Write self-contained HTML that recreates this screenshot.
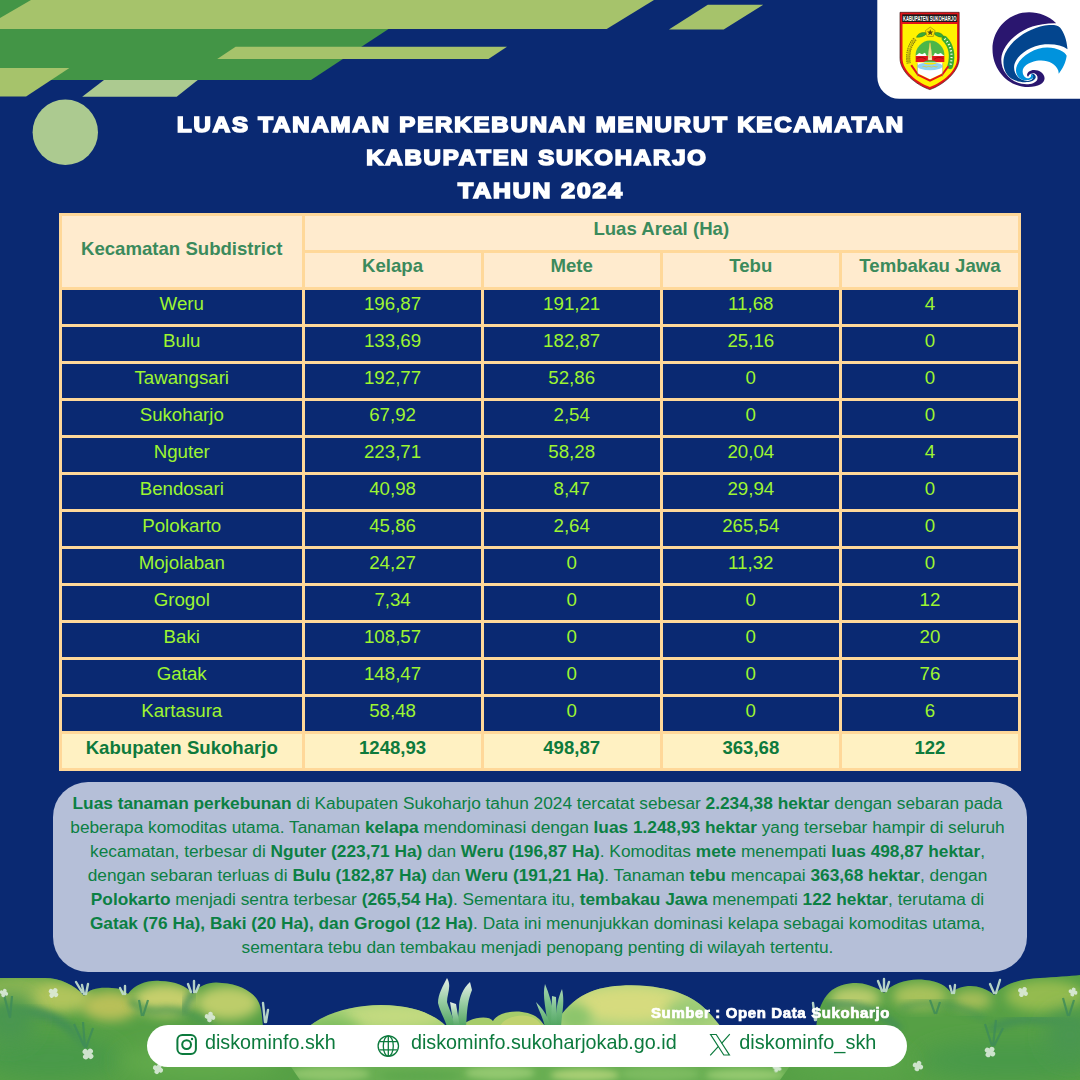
<!DOCTYPE html>
<html lang="id">
<head>
<meta charset="utf-8">
<title>Luas Tanaman Perkebunan Menurut Kecamatan Kabupaten Sukoharjo Tahun 2024</title>
<style>
*{box-sizing:border-box;margin:0;padding:0}
html,body{width:1080px;height:1080px;overflow:hidden}
body{background:#0A2972;font-family:"Liberation Sans",Arial,sans-serif;position:relative}
#stage{position:absolute;left:0;top:0;width:1080px;height:1080px;overflow:hidden;background:#0A2972}
svg{position:absolute;left:0;top:0}
.title{position:absolute;left:0;width:1080px;text-align:center;color:#fff;font-weight:700;font-size:21.6px;line-height:33px;white-space:nowrap;-webkit-text-stroke:1.7px #fff;letter-spacing:1.7px;transform:scaleX(1.1);transform-origin:540px 0}
#tbl{position:absolute;left:59px;top:213px;width:962px;height:558px;background:#FFD899}
.c{position:absolute;display:flex;align-items:center;justify-content:center;white-space:nowrap}
.c.h{background:#FFEBCE;color:#3B8A5C;font-weight:700;font-size:18.6px}
.c.d{background:#0A2972;color:#9DF530;font-size:18.7px}
.c.t{background:#FFF1C2;color:#0E7A3C;font-weight:700;font-size:18.6px}
.c span{display:block;position:relative;top:-3.2px}
.c.h span{top:-3.7px}
.c.h0 span{top:-2.5px}
.c.t span{top:-2.8px}
#desc{position:absolute;left:52.8px;top:781.7px;width:974.6px;height:190px;border-radius:35px;background:#B5BFD8;color:#0B8043;font-size:17.29px;line-height:23.9px;text-align:center;padding-top:10.4px}
#desc p{white-space:nowrap;position:relative;left:-2.6px}
#desc b{font-weight:700}
#pill{position:absolute;left:147px;top:1025px;width:759.5px;height:41.7px;border-radius:21px;background:#fff}
.ft{position:absolute;color:#0C7A3D;font-size:19.75px;line-height:22px;white-space:nowrap;top:1031px}
#src{position:absolute;left:650.8px;top:1004.8px;color:#fff;font-weight:700;font-size:13.8px;line-height:18px;white-space:nowrap;-webkit-text-stroke:0.7px #fff;letter-spacing:0.6px;transform:scaleX(1.083);transform-origin:0 0}
</style>
</head>
<body>
<div id="stage">
<!-- top decoration -->
<svg width="1080" height="200" viewBox="0 0 1080 200">
  <polygon points="0,0 432.6,0 311,80 0,80" fill="#439546"/>
  <polygon points="31,0 654,0 606.7,29 0,29 0,18" fill="#A6C36B"/>
  <polygon points="235.6,46.7 507,46.7 488.5,58.9 217.2,58.9" fill="#A6C36B"/>
  <polygon points="0,68 69.4,68 26.1,96.4 0,96.4" fill="#A6C36B"/>
  <polygon points="104,80 197.8,80 176.7,96.7 82.2,96.7" fill="#ACCA90"/>
  <polygon points="707.8,4.8 763.3,4.8 723.7,29.6 668.9,29.6" fill="#A6C36B"/>
  <circle cx="65.3" cy="132.3" r="32.7" fill="#ACCA90"/>
</svg>
<svg id="logos" width="210" height="105" viewBox="870 0 210 105" style="left:870px;top:0">
<path d="M877.3,0 H1080 V98.8 H899.3 A22,22 0 0 1 877.3,76.8 Z" fill="#fff"/>
<!-- Sukoharjo shield: zoomed coords (x-890)*12,(y-5)*12 -->
<g transform="translate(890,5) scale(0.083333)">
  <path d="M120,88 H830 V640 C830,800 640,960 478,1015 C310,960 120,800 120,640 Z" fill="#E2141A" stroke="#3A1212" stroke-width="8"/>
  <rect x="147" y="112" width="660" height="92" fill="#1A1A1A"/>
  <path d="M150,228 H805 V640 C805,790 630,930 478,985 C320,930 150,790 150,640 Z" fill="#FFF200"/>
  <!-- wreaths -->
  <path d="M300,410 C235,480 205,580 225,700" fill="none" stroke="#6E6A14" stroke-width="50" stroke-dasharray="16 9"/>
  <path d="M300,410 C235,480 205,580 225,700" fill="none" stroke="#F4E300" stroke-width="30" stroke-dasharray="9 16" stroke-dashoffset="-4"/>
  <path d="M655,405 C730,480 760,600 722,735" fill="none" stroke="#3AAA35" stroke-width="68" stroke-linecap="round"/>
  <path d="M655,405 C730,480 760,600 722,735" fill="none" stroke="#F2FBEF" stroke-width="26" stroke-dasharray="14 26"/>
  <!-- top leaves -->
  <path d="M318,388 C330,340 390,320 440,335 C430,365 380,390 318,388 Z" fill="#3AAA35" stroke="#1E6B22" stroke-width="5"/>
  <path d="M648,388 C636,340 576,320 526,335 C536,365 586,390 648,388 Z" fill="#3AAA35" stroke="#1E6B22" stroke-width="5"/>
  <polygon points="483,265 542,308 520,378 446,378 424,308" fill="#FFE600" stroke="#8E7A10" stroke-width="7"/>
  <polygon points="483,290 493,318 522,318 499,336 508,364 483,347 458,364 467,336 444,318 473,318" fill="#5A4A10"/>
  <!-- dome -->
  <path d="M308,610 C300,520 380,425 480,425 C585,425 660,520 652,610 Z" fill="#4CB648"/>
  <path d="M308,612 L350,575 L385,590 L420,572 L440,612 Z M652,612 L610,575 L575,590 L540,572 L520,612 Z" fill="#fff"/>
  <rect x="308" y="612" width="344" height="72" fill="#E2141A"/>
  <path d="M320,640 C360,625 400,625 430,650 M640,640 C600,625 560,625 530,650" stroke="#7A1010" stroke-width="8" fill="none"/>
  <!-- monument -->
  <polygon points="480,448 498,560 505,660 455,660 462,560" fill="#F5F1D0" stroke="#B9A63A" stroke-width="4"/>
  <rect x="474" y="460" width="12" height="180" fill="#E9D23A"/>
  <path d="M400,690 C430,655 530,655 560,690 Z" fill="#4CB648"/>
  <!-- white base + water -->
  <polygon points="330,690 630,690 630,820 480,890 330,820" fill="#fff"/>
  <ellipse cx="480" cy="735" rx="150" ry="48" fill="#8FD3F4"/>
  <path d="M400,700 C440,720 520,720 560,700 C540,690 420,690 400,700 Z" fill="#FFE600"/>
  <path d="M390,740 C410,728 430,752 450,740 C470,728 490,752 510,740 C530,728 550,752 570,740" fill="none" stroke="#E8C81E" stroke-width="9"/>
  <path d="M255,722 L335,838 L480,908 L625,838 L700,735" fill="none" stroke="#E2141A" stroke-width="24" stroke-linejoin="miter"/>
  <path d="M330,700 V860 M630,700 V860" stroke="#8C8C8C" stroke-width="5"/>
  <text x="477" y="187" font-family="'Liberation Sans',Arial,sans-serif" font-weight="700" font-size="82" fill="#fff" text-anchor="middle" textLength="640" lengthAdjust="spacingAndGlyphs">KABUPATEN SUKOHARJO</text>
</g>
<!-- Kominfo: zoomed coords (x-985)*12,(y-5)*12 -->
<g transform="translate(985,5) scale(0.083333)">
  <path d="M855,220 C760,130 650,88 530,88 C280,88 90,290 90,530 C90,790 290,985 520,985 C640,985 715,940 715,880 C715,820 650,780 590,780 C540,780 505,810 505,840 C505,855 515,860 520,858 C525,830 560,815 590,820 C625,830 640,870 625,900 C600,945 520,960 440,945 C300,915 195,800 195,650 C205,470 430,212 855,220 Z" fill="#2A166F"/>
  <path d="M990,530 C980,420 950,330 900,270 C870,240 820,237 770,240 C550,255 316,416 243,580 C209,660 212,765 270,840 C320,905 420,935 520,925 C590,915 620,880 605,850 C595,828 570,818 550,822 C575,835 585,860 570,885 C550,915 490,920 440,895 C372,860 338,792 352,716 C382,606 530,491 720,472 C840,465 930,487 990,530 Z" fill="#03458E"/>
  <path d="M980,610 C960,560 870,514 750,510 C617,508 445,597 386,720 C352,800 383,870 450,898 C510,915 570,895 580,865 C582,845 565,832 548,832 C560,850 550,872 525,878 C490,885 455,850 452,800 C450,740 520,690 620,670 C740,650 850,700 880,790 L885,825 C930,770 970,690 980,610 Z" fill="#0093DD"/>
</g>
</svg>

<div class="title" style="top:107.6px;left:0.6px;transform:scaleX(1.109)">LUAS TANAMAN PERKEBUNAN MENURUT KECAMATAN</div>
<div class="title" style="top:140.6px;left:-2.7px;transform:scaleX(1.107)">KABUPATEN SUKOHARJO</div>
<div class="title" style="top:173.6px;left:1px;transform:scaleX(1.145)">TAHUN 2024</div>
<div id="tbl">
<div class="c h h0" style="left:3.000px;top:3.000px;width:239.500px;height:71.000px"><span>Kecamatan Subdistrict</span></div>
<div class="c h" style="left:245.500px;top:3.000px;width:713.500px;height:34.000px"><span>Luas Areal (Ha)</span></div>
<div class="c h" style="left:245.500px;top:40.000px;width:176.125px;height:34.000px"><span>Kelapa</span></div>
<div class="c h" style="left:424.625px;top:40.000px;width:176.125px;height:34.000px"><span>Mete</span></div>
<div class="c h" style="left:603.750px;top:40.000px;width:176.125px;height:34.000px"><span>Tebu</span></div>
<div class="c h" style="left:782.875px;top:40.000px;width:176.125px;height:34.000px"><span>Tembakau Jawa</span></div>
<div class="c d" style="left:3.000px;top:77.000px;width:239.500px;height:34.000px"><span>Weru</span></div>
<div class="c d" style="left:245.500px;top:77.000px;width:176.125px;height:34.000px"><span>196,87</span></div>
<div class="c d" style="left:424.625px;top:77.000px;width:176.125px;height:34.000px"><span>191,21</span></div>
<div class="c d" style="left:603.750px;top:77.000px;width:176.125px;height:34.000px"><span>11,68</span></div>
<div class="c d" style="left:782.875px;top:77.000px;width:176.125px;height:34.000px"><span>4</span></div>
<div class="c d" style="left:3.000px;top:114.000px;width:239.500px;height:34.000px"><span>Bulu</span></div>
<div class="c d" style="left:245.500px;top:114.000px;width:176.125px;height:34.000px"><span>133,69</span></div>
<div class="c d" style="left:424.625px;top:114.000px;width:176.125px;height:34.000px"><span>182,87</span></div>
<div class="c d" style="left:603.750px;top:114.000px;width:176.125px;height:34.000px"><span>25,16</span></div>
<div class="c d" style="left:782.875px;top:114.000px;width:176.125px;height:34.000px"><span>0</span></div>
<div class="c d" style="left:3.000px;top:151.000px;width:239.500px;height:34.000px"><span>Tawangsari</span></div>
<div class="c d" style="left:245.500px;top:151.000px;width:176.125px;height:34.000px"><span>192,77</span></div>
<div class="c d" style="left:424.625px;top:151.000px;width:176.125px;height:34.000px"><span>52,86</span></div>
<div class="c d" style="left:603.750px;top:151.000px;width:176.125px;height:34.000px"><span>0</span></div>
<div class="c d" style="left:782.875px;top:151.000px;width:176.125px;height:34.000px"><span>0</span></div>
<div class="c d" style="left:3.000px;top:188.000px;width:239.500px;height:34.000px"><span>Sukoharjo</span></div>
<div class="c d" style="left:245.500px;top:188.000px;width:176.125px;height:34.000px"><span>67,92</span></div>
<div class="c d" style="left:424.625px;top:188.000px;width:176.125px;height:34.000px"><span>2,54</span></div>
<div class="c d" style="left:603.750px;top:188.000px;width:176.125px;height:34.000px"><span>0</span></div>
<div class="c d" style="left:782.875px;top:188.000px;width:176.125px;height:34.000px"><span>0</span></div>
<div class="c d" style="left:3.000px;top:225.000px;width:239.500px;height:34.000px"><span>Nguter</span></div>
<div class="c d" style="left:245.500px;top:225.000px;width:176.125px;height:34.000px"><span>223,71</span></div>
<div class="c d" style="left:424.625px;top:225.000px;width:176.125px;height:34.000px"><span>58,28</span></div>
<div class="c d" style="left:603.750px;top:225.000px;width:176.125px;height:34.000px"><span>20,04</span></div>
<div class="c d" style="left:782.875px;top:225.000px;width:176.125px;height:34.000px"><span>4</span></div>
<div class="c d" style="left:3.000px;top:262.000px;width:239.500px;height:34.000px"><span>Bendosari</span></div>
<div class="c d" style="left:245.500px;top:262.000px;width:176.125px;height:34.000px"><span>40,98</span></div>
<div class="c d" style="left:424.625px;top:262.000px;width:176.125px;height:34.000px"><span>8,47</span></div>
<div class="c d" style="left:603.750px;top:262.000px;width:176.125px;height:34.000px"><span>29,94</span></div>
<div class="c d" style="left:782.875px;top:262.000px;width:176.125px;height:34.000px"><span>0</span></div>
<div class="c d" style="left:3.000px;top:299.000px;width:239.500px;height:34.000px"><span>Polokarto</span></div>
<div class="c d" style="left:245.500px;top:299.000px;width:176.125px;height:34.000px"><span>45,86</span></div>
<div class="c d" style="left:424.625px;top:299.000px;width:176.125px;height:34.000px"><span>2,64</span></div>
<div class="c d" style="left:603.750px;top:299.000px;width:176.125px;height:34.000px"><span>265,54</span></div>
<div class="c d" style="left:782.875px;top:299.000px;width:176.125px;height:34.000px"><span>0</span></div>
<div class="c d" style="left:3.000px;top:336.000px;width:239.500px;height:34.000px"><span>Mojolaban</span></div>
<div class="c d" style="left:245.500px;top:336.000px;width:176.125px;height:34.000px"><span>24,27</span></div>
<div class="c d" style="left:424.625px;top:336.000px;width:176.125px;height:34.000px"><span>0</span></div>
<div class="c d" style="left:603.750px;top:336.000px;width:176.125px;height:34.000px"><span>11,32</span></div>
<div class="c d" style="left:782.875px;top:336.000px;width:176.125px;height:34.000px"><span>0</span></div>
<div class="c d" style="left:3.000px;top:373.000px;width:239.500px;height:34.000px"><span>Grogol</span></div>
<div class="c d" style="left:245.500px;top:373.000px;width:176.125px;height:34.000px"><span>7,34</span></div>
<div class="c d" style="left:424.625px;top:373.000px;width:176.125px;height:34.000px"><span>0</span></div>
<div class="c d" style="left:603.750px;top:373.000px;width:176.125px;height:34.000px"><span>0</span></div>
<div class="c d" style="left:782.875px;top:373.000px;width:176.125px;height:34.000px"><span>12</span></div>
<div class="c d" style="left:3.000px;top:410.000px;width:239.500px;height:34.000px"><span>Baki</span></div>
<div class="c d" style="left:245.500px;top:410.000px;width:176.125px;height:34.000px"><span>108,57</span></div>
<div class="c d" style="left:424.625px;top:410.000px;width:176.125px;height:34.000px"><span>0</span></div>
<div class="c d" style="left:603.750px;top:410.000px;width:176.125px;height:34.000px"><span>0</span></div>
<div class="c d" style="left:782.875px;top:410.000px;width:176.125px;height:34.000px"><span>20</span></div>
<div class="c d" style="left:3.000px;top:447.000px;width:239.500px;height:34.000px"><span>Gatak</span></div>
<div class="c d" style="left:245.500px;top:447.000px;width:176.125px;height:34.000px"><span>148,47</span></div>
<div class="c d" style="left:424.625px;top:447.000px;width:176.125px;height:34.000px"><span>0</span></div>
<div class="c d" style="left:603.750px;top:447.000px;width:176.125px;height:34.000px"><span>0</span></div>
<div class="c d" style="left:782.875px;top:447.000px;width:176.125px;height:34.000px"><span>76</span></div>
<div class="c d" style="left:3.000px;top:484.000px;width:239.500px;height:34.000px"><span>Kartasura</span></div>
<div class="c d" style="left:245.500px;top:484.000px;width:176.125px;height:34.000px"><span>58,48</span></div>
<div class="c d" style="left:424.625px;top:484.000px;width:176.125px;height:34.000px"><span>0</span></div>
<div class="c d" style="left:603.750px;top:484.000px;width:176.125px;height:34.000px"><span>0</span></div>
<div class="c d" style="left:782.875px;top:484.000px;width:176.125px;height:34.000px"><span>6</span></div>
<div class="c t" style="left:3.000px;top:521.000px;width:239.500px;height:34.000px"><span>Kabupaten Sukoharjo</span></div>
<div class="c t" style="left:245.500px;top:521.000px;width:176.125px;height:34.000px"><span>1248,93</span></div>
<div class="c t" style="left:424.625px;top:521.000px;width:176.125px;height:34.000px"><span>498,87</span></div>
<div class="c t" style="left:603.750px;top:521.000px;width:176.125px;height:34.000px"><span>363,68</span></div>
<div class="c t" style="left:782.875px;top:521.000px;width:176.125px;height:34.000px"><span>122</span></div>
</div>
<div id="desc">
<p><b>Luas tanaman perkebunan</b> di Kabupaten Sukoharjo tahun 2024 tercatat sebesar <b>2.234,38 hektar</b> dengan sebaran pada</p>
<p>beberapa komoditas utama. Tanaman <b>kelapa</b> mendominasi dengan <b>luas 1.248,93 hektar</b> yang tersebar hampir di seluruh</p>
<p>kecamatan, terbesar di <b>Nguter (223,71 Ha)</b> dan <b>Weru (196,87 Ha)</b>. Komoditas <b>mete</b> menempati <b>luas 498,87 hektar</b>,</p>
<p>dengan sebaran terluas di <b>Bulu (182,87 Ha)</b> dan <b>Weru (191,21 Ha)</b>. Tanaman <b>tebu</b> mencapai <b>363,68 hektar</b>, dengan</p>
<p><b>Polokarto</b> menjadi sentra terbesar <b>(265,54 Ha)</b>. Sementara itu, <b>tembakau Jawa</b> menempati <b>122 hektar</b>, terutama di</p>
<p><b>Gatak (76 Ha), Baki (20 Ha), dan Grogol (12 Ha)</b>. Data ini menunjukkan dominasi kelapa sebagai komoditas utama,</p>
<p>sementara tebu dan tembakau menjadi penopang penting di wilayah tertentu.</p>
</div>
<svg id="foot" width="1080" height="120" viewBox="0 960 1080 120" style="top:960px">
<defs>
  <filter id="b3" x="-20%" y="-20%" width="140%" height="140%"><feGaussianBlur stdDeviation="3"/></filter>
  <filter id="b6" x="-30%" y="-30%" width="160%" height="160%"><feGaussianBlur stdDeviation="6"/></filter>
  <filter id="b10" x="-40%" y="-40%" width="180%" height="180%"><feGaussianBlur stdDeviation="10"/></filter>
  <clipPath id="cl"><path d="M0,978 H45 C60,978 75,985 84,996 C90,988 100,987 112,988 C120,988 124,991 128,994 C135,984 148,980 160,981 C175,981 186,986 193,994 C200,984 212,981 222,983 C240,984 255,993 259,1003 C262,1010 262,1018 263,1026 L300,1080 H0 Z"/></clipPath>
  <clipPath id="cr"><path d="M816,1030 C817,1012 822,998 832,990 C842,983 858,981 868,985 C876,988 882,990 884,993 C892,983 910,978 925,980 C938,981 947,986 951,993 C958,986 972,984 982,988 C988,990 992,993 994,995 C1003,984 1020,979 1040,978 C1055,977 1070,976 1080,975 V1080 H780 Z"/></clipPath>
  <clipPath id="ch1"><path d="M305,1030 C320,1015 350,1005 381,1005 C410,1005 432,1013 445,1025 L450,1080 H290 Z"/></clipPath>
  <clipPath id="ch2"><path d="M553,1030 C560,1012 575,998 590,992 C610,984 640,984 660,988 C685,992 700,1002 712,1016 L722,1028 V1080 H553 Z"/></clipPath>
  <linearGradient id="gblade" x1="0" y1="0" x2="0" y2="1"><stop offset="0" stop-color="#E4EEE6"/><stop offset="0.45" stop-color="#9CCFA6"/><stop offset="1" stop-color="#4FA45E"/></linearGradient>
  <linearGradient id="gblade2" x1="0" y1="0" x2="0" y2="1"><stop offset="0" stop-color="#A9D6B4"/><stop offset="0.4" stop-color="#7BBF8A"/><stop offset="1" stop-color="#4FA45E"/></linearGradient>
</defs>
<!-- hill 1 (light) -->
<g clip-path="url(#ch1)">
  <rect x="290" y="1000" width="170" height="80" fill="#A2CF74"/>
  <ellipse cx="395" cy="1016" rx="50" ry="12" fill="#C3DA80" filter="url(#b6)"/>
  <ellipse cx="330" cy="1028" rx="30" ry="10" fill="#7FBE5E" filter="url(#b6)"/>
</g>
<!-- small humps -->
<path d="M458,1030 C465,1018 488,1014 493,1021 C500,1009 530,1008 541,1021 L548,1030 Z" fill="#A6CC6A"/>
<path d="M498,1030 C503,1014 530,1011 539,1022 L545,1030 Z" fill="#C4D270" opacity="0.85"/>
<!-- big hill -->
<g clip-path="url(#ch2)">
  <rect x="553" y="980" width="172" height="100" fill="#ABD27C"/>
  <ellipse cx="630" cy="1004" rx="58" ry="18" fill="#D6DB7E" filter="url(#b6)"/>
  <ellipse cx="690" cy="1012" rx="25" ry="14" fill="#9BCB76" filter="url(#b6)"/>
  <ellipse cx="575" cy="1018" rx="16" ry="14" fill="#8CC56C" filter="url(#b6)"/>
</g>
<!-- base strip -->
<rect x="0" y="1062" width="1080" height="18" fill="#68AE52"/>
<g>
  <ellipse cx="330" cy="1074" rx="40" ry="7" fill="#8FC56C" filter="url(#b3)"/>
  <ellipse cx="420" cy="1076" rx="40" ry="6" fill="#5FA84E" filter="url(#b3)"/>
  <ellipse cx="500" cy="1073" rx="35" ry="7" fill="#93C870" filter="url(#b3)"/>
  <ellipse cx="585" cy="1075" rx="35" ry="6" fill="#A9CF74" filter="url(#b3)"/>
  <ellipse cx="660" cy="1074" rx="40" ry="7" fill="#7DBB60" filter="url(#b3)"/>
  <ellipse cx="745" cy="1075" rx="40" ry="6" fill="#94C96F" filter="url(#b3)"/>
</g>
<!-- left cluster -->
<g clip-path="url(#cl)">
  <rect x="0" y="970" width="310" height="110" fill="#56A045"/>
  <ellipse cx="20" cy="992" rx="45" ry="16" fill="#8DB652" filter="url(#b6)"/>
  <ellipse cx="62" cy="998" rx="30" ry="15" fill="#B0C45C" filter="url(#b6)"/>
  <ellipse cx="110" cy="1006" rx="28" ry="15" fill="#B8C058" filter="url(#b6)"/>
  <ellipse cx="165" cy="1000" rx="32" ry="16" fill="#C6CF6C" filter="url(#b6)"/>
  <ellipse cx="228" cy="1003" rx="32" ry="17" fill="#BDCD6A" filter="url(#b6)"/>
  <path d="M0,1015 C40,1005 70,1020 85,1050" stroke="#3F8C58" stroke-width="10" fill="none" filter="url(#b3)" opacity="0.8"/>
  <path d="M130,1000 C140,1010 150,1012 165,1010 C185,1010 200,1018 210,1026" stroke="#4A9650" stroke-width="8" fill="none" filter="url(#b3)" opacity="0.7"/>
  <path d="M184,1012 C186,1002 190,996 194,992" stroke="#3F8C58" stroke-width="7" fill="none" filter="url(#b3)" opacity="0.8"/>
  <ellipse cx="50" cy="1058" rx="70" ry="22" fill="#4A9A48" filter="url(#b10)"/>
  <ellipse cx="10" cy="1020" rx="25" ry="25" fill="#4A9650" filter="url(#b10)"/>
  <ellipse cx="200" cy="1062" rx="80" ry="18" fill="#62AA4C" filter="url(#b10)"/>
  <path d="M4,995 L10,1018 M12,996 L10,1018 M83,1022 L85,1048 M93,1028 L86,1048 M74,1024 L84,1046 M139,1000 L142,1016 M148,1000 L143,1016" stroke="#3F8C58" stroke-width="2.2" fill="none" opacity="0.85"/>
</g>
<!-- right cluster -->
<g clip-path="url(#cr)">
  <rect x="780" y="970" width="300" height="110" fill="#56A045"/>
  <ellipse cx="855" cy="998" rx="26" ry="12" fill="#B9CC6C" filter="url(#b6)"/>
  <ellipse cx="920" cy="996" rx="28" ry="13" fill="#A9C25C" filter="url(#b6)"/>
  <ellipse cx="972" cy="1000" rx="20" ry="10" fill="#A5BE58" filter="url(#b6)"/>
  <ellipse cx="1045" cy="996" rx="40" ry="16" fill="#94BB50" filter="url(#b6)"/>
  <path d="M826,1006 C850,1000 880,1010 900,1030" stroke="#3F8C58" stroke-width="8" fill="none" filter="url(#b3)" opacity="0.7"/>
  <path d="M900,1008 C930,998 960,1004 985,1020" stroke="#4A9650" stroke-width="7" fill="none" filter="url(#b3)" opacity="0.6"/>
  <path d="M990,1030 C1010,1018 1040,1016 1080,1026" stroke="#3F8C58" stroke-width="9" fill="none" filter="url(#b3)" opacity="0.7"/>
  <ellipse cx="1010" cy="1060" rx="90" ry="20" fill="#4A9A48" filter="url(#b10)"/>
  <ellipse cx="1070" cy="1035" rx="25" ry="25" fill="#4A9650" filter="url(#b10)"/>
  <ellipse cx="850" cy="1064" rx="60" ry="16" fill="#5AA64A" filter="url(#b10)"/>
  <path d="M930,1000 L935,1014 M940,1002 L936,1014 M1063,998 L1068,1016 M1074,1000 L1069,1016 M985,1024 L992,1046 M996,1020 L993,1046 M1003,1028 L994,1046" stroke="#3F8C58" stroke-width="2.2" fill="none" opacity="0.85"/>
</g>
<!-- tall grass blades -->
<g fill="url(#gblade)">
  <path d="M447,978 C443,986 438,994 438,1003 C440,1012 445,1019 447,1027 L455,1027 C453,1016 449,1009 447,1002 C447,994 452,986 447,978 Z"/>
  <path d="M470,982 C463,988 459,998 459,1008 L457,1027 L466,1027 C467,1014 467,1002 472,990 Z"/>
  <path d="M450,1002 L454,1027 L460,1027 L456,1004 Z"/>
</g>
<g fill="url(#gblade2)">
  <path d="M545,984 C542,996 546,1008 548,1027 L555,1027 C554,1010 550,996 545,984 Z"/>
  <path d="M562,989 C557,1000 556,1012 555,1027 L561,1027 C562,1012 565,1002 562,989 Z"/>
  <path d="M536,1002 C539,1011 543,1018 545,1027 L551,1027 C548,1016 543,1009 536,1002 Z"/>
  <path d="M552,996 L551,1027 L557,1027 L556,997 Z"/>
</g>
<!-- small pale tufts on bush tops -->
<g stroke="#BFDCCB" stroke-width="2.4" stroke-linecap="round" fill="none" opacity="0.95">
  <path d="M76,982 L82,992 M82,985 L84,994 M88,984 L86,994"/>
  <path d="M120,988 L123,994 M125,986 L125,994"/>
  <path d="M188,984 L191,992 M194,981 L194,992 M199,985 L196,992"/>
  <path d="M263,1003 L265,1022 M268,1010 L266,1022"/>
  <path d="M878,981 L882,991 M884,979 L884,991 M889,982 L886,991"/>
  <path d="M950,986 L952,993 M955,985 L954,993"/>
  <path d="M990,984 L994,993 M1000,980 L996,993"/>
  <path d="M813,1003 L815,1020 M817,1008 L816,1020"/>
</g>
<!-- flowers -->
<g fill="#DDEBDD" opacity="0.9">
<g transform="translate(4,993) rotate(20) scale(1.0)"><circle cx="0" cy="-2.4" r="1.9"/><circle cx="2.4" cy="0" r="1.9"/><circle cx="0" cy="2.4" r="1.9"/><circle cx="-2.4" cy="0" r="1.9"/><circle cx="0" cy="0" r="1.6"/></g>
<g transform="translate(53.5,993) rotate(35) scale(1.25)"><circle cx="0" cy="-2.4" r="1.9"/><circle cx="2.4" cy="0" r="1.9"/><circle cx="0" cy="2.4" r="1.9"/><circle cx="-2.4" cy="0" r="1.9"/><circle cx="0" cy="0" r="1.6"/></g>
<g transform="translate(210,1017) rotate(10) scale(1.25)"><circle cx="0" cy="-2.4" r="1.9"/><circle cx="2.4" cy="0" r="1.9"/><circle cx="0" cy="2.4" r="1.9"/><circle cx="-2.4" cy="0" r="1.9"/><circle cx="0" cy="0" r="1.6"/></g>
<g transform="translate(88,1054) rotate(40) scale(1.45)"><circle cx="0" cy="-2.4" r="1.9"/><circle cx="2.4" cy="0" r="1.9"/><circle cx="0" cy="2.4" r="1.9"/><circle cx="-2.4" cy="0" r="1.9"/><circle cx="0" cy="0" r="1.6"/></g>
<g transform="translate(158,1069) rotate(25) scale(1.25)"><circle cx="0" cy="-2.4" r="1.9"/><circle cx="2.4" cy="0" r="1.9"/><circle cx="0" cy="2.4" r="1.9"/><circle cx="-2.4" cy="0" r="1.9"/><circle cx="0" cy="0" r="1.6"/></g>
<g transform="translate(1023,992) rotate(30) scale(1.25)"><circle cx="0" cy="-2.4" r="1.9"/><circle cx="2.4" cy="0" r="1.9"/><circle cx="0" cy="2.4" r="1.9"/><circle cx="-2.4" cy="0" r="1.9"/><circle cx="0" cy="0" r="1.6"/></g>
<g transform="translate(1073,992) rotate(15) scale(1.05)"><circle cx="0" cy="-2.4" r="1.9"/><circle cx="2.4" cy="0" r="1.9"/><circle cx="0" cy="2.4" r="1.9"/><circle cx="-2.4" cy="0" r="1.9"/><circle cx="0" cy="0" r="1.6"/></g>
<g transform="translate(990,1052) rotate(35) scale(1.35)"><circle cx="0" cy="-2.4" r="1.9"/><circle cx="2.4" cy="0" r="1.9"/><circle cx="0" cy="2.4" r="1.9"/><circle cx="-2.4" cy="0" r="1.9"/><circle cx="0" cy="0" r="1.6"/></g>
<g transform="translate(918,1066) rotate(20) scale(1.25)"><circle cx="0" cy="-2.4" r="1.9"/><circle cx="2.4" cy="0" r="1.9"/><circle cx="0" cy="2.4" r="1.9"/><circle cx="-2.4" cy="0" r="1.9"/><circle cx="0" cy="0" r="1.6"/></g>
<g transform="translate(777,1068) rotate(20) scale(1.05)"><circle cx="0" cy="-2.4" r="1.9"/><circle cx="2.4" cy="0" r="1.9"/><circle cx="0" cy="2.4" r="1.9"/><circle cx="-2.4" cy="0" r="1.9"/><circle cx="0" cy="0" r="1.6"/></g>
</g>
</svg>

<div id="src">Sumber : Open Data Sukoharjo</div>
<div id="pill"></div>
<svg id="icons" width="760" height="42" viewBox="147 1025 760 42" style="left:147px;top:1025px">
<g fill="none" stroke="#0C7A3D">
  <rect x="177.4" y="1034.9" width="18.5" height="19" rx="5" ry="5" stroke-width="2"/>
  <circle cx="186.6" cy="1044.6" r="4.4" stroke-width="2"/>
  <circle cx="192" cy="1039" r="1.2" fill="#0C7A3D" stroke="none"/>
  <g stroke-width="1.3">
    <circle cx="388.3" cy="1046" r="10.2"/>
    <ellipse cx="388.3" cy="1046" rx="5" ry="10.2"/>
    <path d="M388.3,1035.8 V1056.2 M379.3,1041.6 H397.3 M379.3,1049.8 H397.3"/>
  </g>
  <g stroke-width="1.2" stroke-linejoin="miter">
    <path d="M710.6,1034.5 H716.2 L729.4,1055 H723.8 Z"/>
    <path d="M729.8,1034.2 L721.6,1043.4 M710.2,1055.4 L718.2,1046.6"/>
  </g>
</g>
</svg>

<div class="ft" style="left:205px">diskominfo.skh</div>
<div class="ft" style="left:411px">diskominfo.sukoharjokab.go.id</div>
<div class="ft" style="left:739.3px;font-size:19.9px">diskominfo_skh</div>
</div>
</body>
</html>
